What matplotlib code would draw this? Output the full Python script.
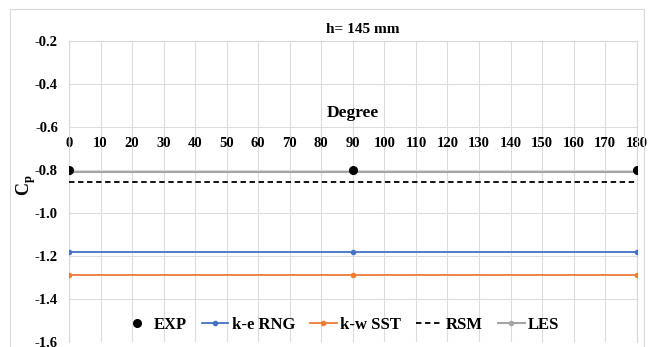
import numpy as np
import matplotlib
matplotlib.use("Agg")
import matplotlib.pyplot as plt

plt.rcParams["font.family"] = ["Liberation Serif", "DejaVu Serif"]
plt.rcParams["font.weight"] = "bold"
plt.rcParams["mathtext.fontset"] = "custom"
plt.rcParams["mathtext.bf"] = "Liberation Serif:bold"

degrees = [0, 90, 180]
exp = [-0.80, -0.80, -0.80]
ke_rng = [-1.18, -1.18, -1.18]
kw_sst = [-1.29, -1.29, -1.29]
rsm = [-0.857, -0.857, -0.857]
les = [-0.81, -0.81, -0.81]

fig = plt.figure(figsize=(6.54, 3.47), dpi=100)
ax = fig.add_axes([0.1055, 0.0144, 0.868, 0.868])

ax.plot(degrees, ke_rng, color="#4472c4", lw=1.3, marker="o", ms=3, label="k-e RNG", zorder=3)
ax.plot(degrees, kw_sst, color="#ed7d31", lw=1.3, marker="o", ms=3, label="k-w SST", zorder=3)
ax.plot(degrees, rsm, color="black", lw=1.3, ls=(0, (3, 2)), label="RSM", zorder=3)
ax.plot(degrees, les, color="#a5a5a5", lw=1.5, marker="o", ms=3, label="LES", zorder=3)
ax.plot(degrees, exp, color="black", ls="none", marker="o", ms=5.5, label="EXP", zorder=4)

ax.set_xlim(0, 180)
ax.set_ylim(-1.6, -0.2)
ax.set_xticks(np.arange(0, 181, 10))
ax.set_yticks(np.arange(-1.6, -0.19, 0.2))
ax.set_yticklabels([f"{v:.1f}" for v in np.arange(-1.6, -0.19, 0.2)])
ax.grid(True, color="#dcdcdc", lw=0.8)
ax.set_axisbelow(True)

# x axis crosses at -0.6, labels just under it
ax.spines["bottom"].set_position(("data", -0.6))
ax.spines["bottom"].set_visible(False)
for s in ["top", "left", "right"]:
    ax.spines[s].set_color("#d9d9d9")
ax.tick_params(axis="x", length=0, pad=7, labelsize=10.5)
ax.tick_params(axis="y", length=0, pad=8, labelsize=10.5)
for lbl in ax.get_xticklabels() + ax.get_yticklabels():
    lbl.set_fontweight("bold")

ax.text(90, -0.535, "Degree", ha="center", va="center", fontsize=12.5, fontweight="bold")
fig.text(0.555, 0.915, "h= 145 mm", ha="center", va="center", fontsize=11, fontweight="bold")
fig.text(0.04, 0.467, r"C$_\mathbf{p}$", rotation=90, ha="center", va="center", fontsize=13, fontweight="bold")

handles, labels = ax.get_legend_handles_labels()
order = [4, 0, 1, 2, 3]
ax.legend([handles[i] for i in order], [labels[i] for i in order], ncol=5, loc="lower center",
          bbox_to_anchor=(0.48, -0.02), frameon=False, prop={"size": 12, "weight": "bold"},
          handlelength=1.6, handletextpad=0.2, columnspacing=0.9)

# outer chart border
fig.patches.append(plt.Rectangle((0.015, -0.1), 0.97, 1.075, transform=fig.transFigure,
                                 fill=False, edgecolor="#d9d9d9", lw=0.8))

fig.savefig("out.png", dpi=100)
